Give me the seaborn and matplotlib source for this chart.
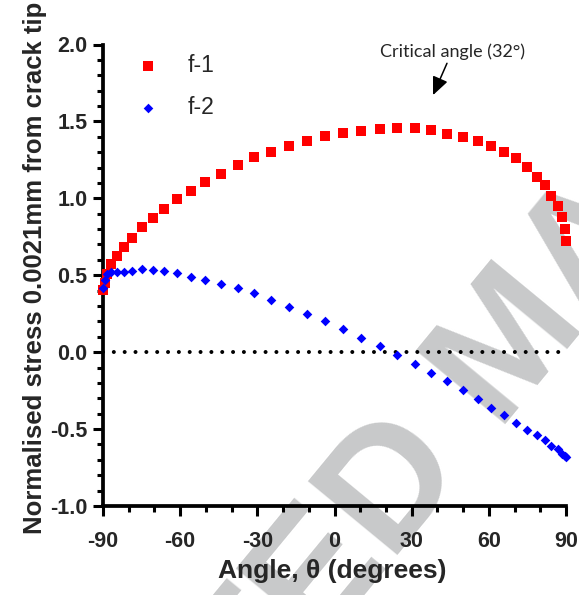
import numpy as np
import pandas as pd
import matplotlib
matplotlib.use("Agg")
import matplotlib.pyplot as plt
import seaborn as sns
from matplotlib.ticker import MultipleLocator, FormatStrFormatter

# ---- data ----
theta = [-90.0, -89.3, -88.4, -86.7, -84.7, -81.9, -78.7, -75.0, -70.7, -66.3,
         -61.2, -55.8, -50.3, -44.1, -37.6, -31.4, -24.5, -17.6, -10.6, -3.6,
         3.3, 10.4, 17.5, 24.4, 31.2, 37.7, 43.9, 50.0, 55.6, 61.0,
         66.0, 70.7, 74.8, 78.7, 82.0, 84.3, 86.8, 88.3, 89.5, 90.0]
f1 = [0.403, 0.451, 0.509, 0.570, 0.626, 0.685, 0.743, 0.815, 0.873, 0.930,
      0.995, 1.047, 1.105, 1.159, 1.218, 1.268, 1.302, 1.341, 1.374, 1.406,
      1.426, 1.437, 1.450, 1.454, 1.458, 1.445, 1.419, 1.398, 1.374, 1.341,
      1.300, 1.259, 1.205, 1.140, 1.086, 1.016, 0.951, 0.880, 0.800, 0.724]
f2 = [0.420, 0.470, 0.510, 0.518, 0.522, 0.522, 0.530, 0.540, 0.536, 0.527,
      0.512, 0.490, 0.470, 0.440, 0.418, 0.386, 0.338, 0.295, 0.247, 0.202,
      0.148, 0.093, 0.039, -0.020, -0.080, -0.138, -0.189, -0.247, -0.304, -0.360,
      -0.410, -0.460, -0.505, -0.540, -0.574, -0.607, -0.629, -0.663, -0.674, -0.681]
series_labels = ["f-1", "f-2"]
x_label = "Angle, \u03b8 (degrees)"
y_label = "Normalised stress 0.0021mm from crack tip"
annot_text = "Critical angle (32\u00b0)"
annot_xy = (38.3, 1.671)
annot_text_xy = (45.7, 1.953)
watermark = "ACCEPTED MANUSCRIPT"

df = pd.DataFrame({"theta": theta, "f1": f1, "f2": f2})

sns.set_theme(style="white")
plt.rcParams["font.family"] = ["Liberation Sans", "DejaVu Sans"]
plt.rcParams["axes.unicode_minus"] = False

fig = plt.figure(figsize=(5.79, 5.95), dpi=100)
ax = fig.add_axes([103/579, 1-506/595, 463/579, 461.5/595])
ax.set_facecolor("none")

# watermark (behind everything)
fig.text(0.863, 0.437, watermark, rotation=50.5, rotation_mode="anchor",
         ha="center", va="center_baseline", fontsize=122, fontweight="bold",
         color="#c8c9ca", zorder=-1)

ax.axhline(0, color="black", lw=2.9, linestyle=(0, (0.001, 2.69)),
           dash_capstyle="round", zorder=1)

sns.scatterplot(data=df, x="theta", y="f1", marker="s", color="#ff0000", s=42,
                linewidth=0, label=series_labels[0], ax=ax, clip_on=False, zorder=3)
sns.scatterplot(data=df, x="theta", y="f2", marker="D", color="#0000ff", s=24,
                linewidth=0, label=series_labels[1], ax=ax, clip_on=False, zorder=3)

ax.set_xlim(-90, 90)
ax.set_ylim(-1, 2)
ax.xaxis.set_major_locator(MultipleLocator(30))
ax.xaxis.set_minor_locator(MultipleLocator(10))
ax.yaxis.set_major_locator(MultipleLocator(0.5))
ax.yaxis.set_minor_locator(MultipleLocator(0.1))
ax.yaxis.set_major_formatter(FormatStrFormatter("%.1f"))

for s in ["top", "right"]:
    ax.spines[s].set_visible(False)
for s in ["left", "bottom"]:
    ax.spines[s].set_linewidth(2.7)
    ax.spines[s].set_color("black")

ax.tick_params(which="major", direction="out", length=7, width=2.2, color="black",
               labelsize=15.5, pad=4)
ax.tick_params(which="minor", direction="out", length=4, width=2.2, color="black")
ax.tick_params(axis="x", which="major", pad=11)
ax.tick_params(axis="x", which="both", bottom=True)
ax.tick_params(axis="y", which="both", left=True)
for lab in ax.get_xticklabels() + ax.get_yticklabels():
    lab.set_fontweight("bold")

ax.set_xlabel(x_label, fontsize=19, fontweight="bold")
ax.set_ylabel(y_label, fontsize=18.5, fontweight="bold")
ax.xaxis.set_label_coords(0.4957, -0.115)
ax.yaxis.set_label_coords(-0.121, 0.516)

ax.annotate(annot_text, xy=annot_xy, xytext=annot_text_xy, ha="center", va="center",
            fontsize=13, family=["Lato", "DejaVu Sans"],
            arrowprops=dict(arrowstyle="-|>,head_length=0.5,head_width=0.22",
                            color="black", lw=1.1, mutation_scale=22, shrinkA=0, shrinkB=0))

leg = ax.legend(loc="upper left", bbox_to_anchor=(0.0717, 0.9796), frameon=False,
                prop={"family": "Liberation Sans", "size": 16.5},
                handlelength=1.0, handletextpad=1.26, labelspacing=0.82,
                borderpad=0, borderaxespad=0)

fig.savefig("out.png", dpi=100, facecolor="white")
